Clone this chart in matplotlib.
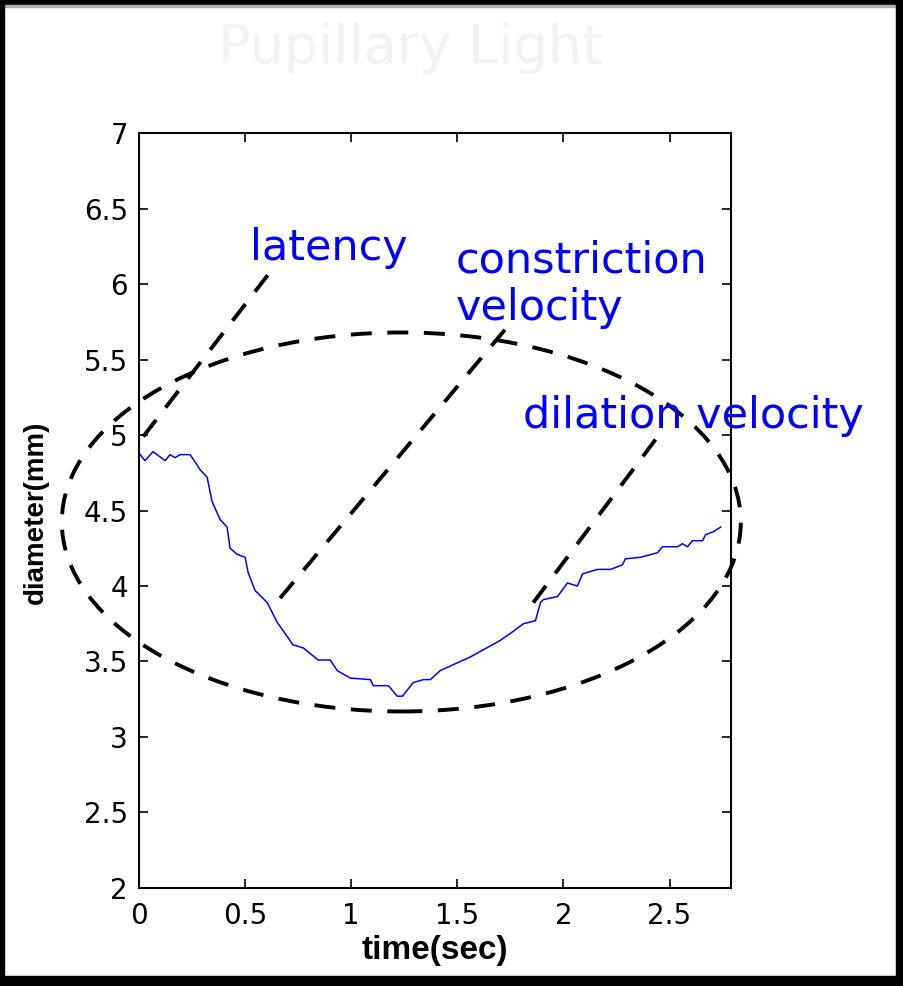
import numpy as np
import matplotlib.pyplot as plt
from matplotlib.patches import Ellipse, Rectangle

# pupil diameter trace (sec, mm)
t = np.array([0.000, 0.028, 0.066, 0.123, 0.146, 0.170, 0.193, 0.241, 0.288, 0.321,
              0.344, 0.382, 0.415, 0.429, 0.462, 0.500, 0.514, 0.547, 0.604, 0.651,
              0.726, 0.774, 0.844, 0.901, 0.934, 0.995, 1.090, 1.104, 1.175, 1.217,
              1.241, 1.292, 1.340, 1.373, 1.420, 1.561, 1.703, 1.764, 1.811, 1.868,
              1.892, 1.906, 1.972, 2.019, 2.066, 2.090, 2.160, 2.222, 2.278, 2.292,
              2.363, 2.443, 2.467, 2.538, 2.561, 2.585, 2.608, 2.656, 2.670, 2.708,
              2.741])
d = np.array([4.88, 4.83, 4.89, 4.83, 4.87, 4.85, 4.87, 4.87, 4.77, 4.72,
              4.56, 4.44, 4.39, 4.25, 4.21, 4.19, 4.09, 3.97, 3.89, 3.76,
              3.61, 3.59, 3.51, 3.51, 3.44, 3.39, 3.38, 3.34, 3.34, 3.27,
              3.27, 3.36, 3.38, 3.38, 3.44, 3.53, 3.64, 3.70, 3.75, 3.77,
              3.89, 3.91, 3.93, 4.02, 4.00, 4.08, 4.11, 4.11, 4.14, 4.18,
              4.19, 4.22, 4.26, 4.26, 4.28, 4.26, 4.30, 4.30, 4.34, 4.36,
              4.39])

# region of interest (ellipse centre, width, height)
ell_c = (1.236, 4.424)
ell_w = 3.20
ell_h = 2.51

# pointer lines: (x0, y0, x1, y1)
pointers = [(0.02, 4.99, 0.618, 6.08),
            (0.665, 3.92, 1.726, 5.70),
            (1.858, 3.89, 2.434, 4.97)]

# labels: (x, baseline y, text)
labels = [(0.524, 6.159, 'latency'),
          (1.491, 6.073, 'constriction'),
          (1.491, 5.762, 'velocity'),
          (1.811, 5.046, 'dilation velocity')]

fig = plt.figure(figsize=(9.04, 9.86), dpi=100)
ax = fig.add_axes([0.1538, 0.0994, 0.6549, 0.7657])

dash = (0, (5.4, 4.0))
ax.add_patch(Ellipse(ell_c, ell_w, ell_h, fill=False, edgecolor='black',
                     lw=2.8, linestyle=dash, clip_on=False, zorder=3))
for x0, y0, x1, y1 in pointers:
    ax.plot([x0, x1], [y0, y1], color='black', lw=2.8, linestyle=dash,
            clip_on=False, zorder=3)

ax.plot(t, d, color='#0000ff', lw=1.1, zorder=4)

for x, y, s in labels:
    ax.text(x, y, s, color='#0000ff', fontsize=31, va='baseline', ha='left',
            zorder=5, clip_on=False)

ax.set_xlim(0, 2.79)
ax.set_ylim(2, 7)
ax.set_xticks([0, 0.5, 1, 1.5, 2, 2.5])
ax.set_xticklabels(['0', '0.5', '1', '1.5', '2', '2.5'])
ax.set_yticks([2, 2.5, 3, 3.5, 4, 4.5, 5, 5.5, 6, 6.5, 7])
ax.set_yticklabels(['2', '2.5', '3', '3.5', '4', '4.5', '5', '5.5', '6', '6.5', '7'])
ax.tick_params(direction='in', top=True, right=True, length=6.5, width=1.2,
               labelsize=20)
ax.tick_params(axis='y', pad=8)
ax.tick_params(axis='x', pad=10)
for sp in ax.spines.values():
    sp.set_linewidth(1.5)

ax.set_xlabel('time(sec)', fontsize=24, fontweight='bold',
              family='Liberation Sans', labelpad=4)
ax.set_ylabel('diameter(mm)', fontsize=20, fontweight='bold',
              family='Liberation Sans')
ax.yaxis.set_label_coords(-0.152, 0.498)

fig.text(0.454, 0.951, 'Pupillary Light', color='#f3f3f3', fontsize=39,
         ha='center', va='center')

# outer frame
fig.patches.append(Rectangle((0, 0.995), 1, 0.005, transform=fig.transFigure,
                             color='black', zorder=10))
fig.patches.append(Rectangle((0, 0.9925), 1, 0.002, transform=fig.transFigure,
                             color='#b0b0b0', zorder=10))
fig.patches.append(Rectangle((0, 0), 0.004, 1, transform=fig.transFigure,
                             color='black', zorder=10))
fig.patches.append(Rectangle((0.991, 0), 0.009, 1, transform=fig.transFigure,
                             color='black', zorder=10))
fig.patches.append(Rectangle((0, 0), 1, 0.01, transform=fig.transFigure,
                             color='black', zorder=10))

fig.savefig('out.png', dpi=100)
